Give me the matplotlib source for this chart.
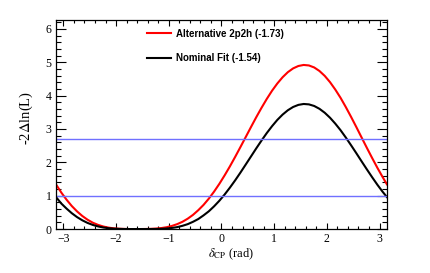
import numpy as np
import matplotlib
matplotlib.use('Agg')
import matplotlib.pyplot as plt
from matplotlib.ticker import MultipleLocator

plt.rcParams['mathtext.fontset'] = 'stix'

# delta_CP scan points (rad)
dcp = [-3.14, -3.04, -2.94, -2.84, -2.74, -2.64, -2.54, -2.44, -2.34, -2.24,
       -2.14, -2.04, -1.94, -1.84, -1.74, -1.64, -1.54, -1.44, -1.34, -1.24,
       -1.14, -1.04, -0.94, -0.84, -0.74, -0.64, -0.54, -0.44, -0.34, -0.24,
       -0.14, -0.04, 0.06, 0.16, 0.26, 0.36, 0.46, 0.56, 0.66, 0.76,
       0.86, 0.96, 1.06, 1.16, 1.26, 1.36, 1.46, 1.56, 1.66, 1.76,
       1.86, 1.96, 2.06, 2.16, 2.26, 2.36, 2.46, 2.56, 2.66, 2.76,
       2.86, 2.96, 3.06, 3.14]

# -2 delta ln(L), nominal fit
nominal = [0.96, 0.767, 0.614, 0.475, 0.358, 0.262, 0.183, 0.123, 0.078, 0.046,
           0.025, 0.012, 0.005, 0.0014, 0.0002, 0.0, 0.0, 0.0, 0.0006, 0.0025,
           0.007, 0.017, 0.033, 0.058, 0.097, 0.147, 0.217, 0.300, 0.410, 0.532,
           0.681, 0.848, 1.035, 1.241, 1.460, 1.692, 1.933, 2.175, 2.418, 2.653,
           2.878, 3.084, 3.272, 3.431, 3.562, 3.660, 3.723, 3.750, 3.738, 3.690,
           3.605, 3.487, 3.338, 3.161, 2.964, 2.744, 2.512, 2.273, 2.029, 1.788,
           1.553, 1.326, 1.115, 0.96]

# -2 delta ln(L), alternative 2p2h model
alt2p2h = [1.34, 1.096, 0.881, 0.690, 0.529, 0.391, 0.279, 0.189, 0.124, 0.075,
           0.042, 0.021, 0.009, 0.003, 0.0001, 0.0, 0.0, 0.002, 0.006, 0.014,
           0.030, 0.055, 0.094, 0.147, 0.218, 0.311, 0.425, 0.565, 0.724, 0.911,
           1.122, 1.355, 1.609, 1.878, 2.163, 2.458, 2.757, 3.057, 3.352, 3.634,
           3.901, 4.147, 4.364, 4.551, 4.704, 4.817, 4.889, 4.920, 4.905, 4.845,
           4.739, 4.592, 4.405, 4.183, 3.935, 3.657, 3.363, 3.057, 2.744, 2.433,
           2.129, 1.833, 1.555, 1.34]

labels = ['Alternative 2p2h (-1.73)', 'Nominal Fit (-1.54)']
cl_levels = [1.0, 2.71]

fig = plt.figure(figsize=(4.3, 2.73), dpi=100)
ax = fig.add_axes([0.130, 0.161, 0.770, 0.766])

ax.plot(dcp, alt2p2h, color='#ff0000', lw=1.5, label=labels[0])
ax.plot(dcp, nominal, color='black', lw=1.5, label=labels[1])
for lev in cl_levels:
    ax.axhline(lev, color='#7070ff', lw=1.0)

ax.set_xlim(-np.pi, np.pi)
ax.set_ylim(0, 6.27)

ax.xaxis.set_major_locator(MultipleLocator(1))
ax.xaxis.set_minor_locator(MultipleLocator(0.2))
ax.yaxis.set_major_locator(MultipleLocator(1))
ax.yaxis.set_minor_locator(MultipleLocator(0.2))
ax.tick_params(which='both', direction='in', top=True, right=True, width=0.8,
               labelsize=8.5, pad=3)
ax.tick_params(axis='x', which='major', length=4.5)
ax.tick_params(axis='x', which='minor', length=2.3)
ax.tick_params(axis='y', which='major', length=7)
ax.tick_params(axis='y', which='minor', length=3.5)
for lab in ax.get_xticklabels() + ax.get_yticklabels():
    lab.set_family('Liberation Serif')
for sp in ax.spines.values():
    sp.set_linewidth(0.9)

ax.set_xlabel(r'$\delta_{\rm CP}$ (rad)', family='Liberation Serif', fontsize=9)
ax.set_ylabel(r'-2$\Delta$ln(L)', family='Liberation Serif', fontsize=10.5)
ax.xaxis.set_label_coords(0.53, -0.085)
ax.yaxis.set_label_coords(-0.063, 0.53)

leg = ax.legend(loc='upper left', bbox_to_anchor=(0.25, 1.0), frameon=False,
                prop={'family': 'Liberation Sans', 'weight': 'bold', 'size': 7},
                handlelength=2.4, labelspacing=1.5, handletextpad=0.5)

fig.savefig('out.png', dpi=100)
